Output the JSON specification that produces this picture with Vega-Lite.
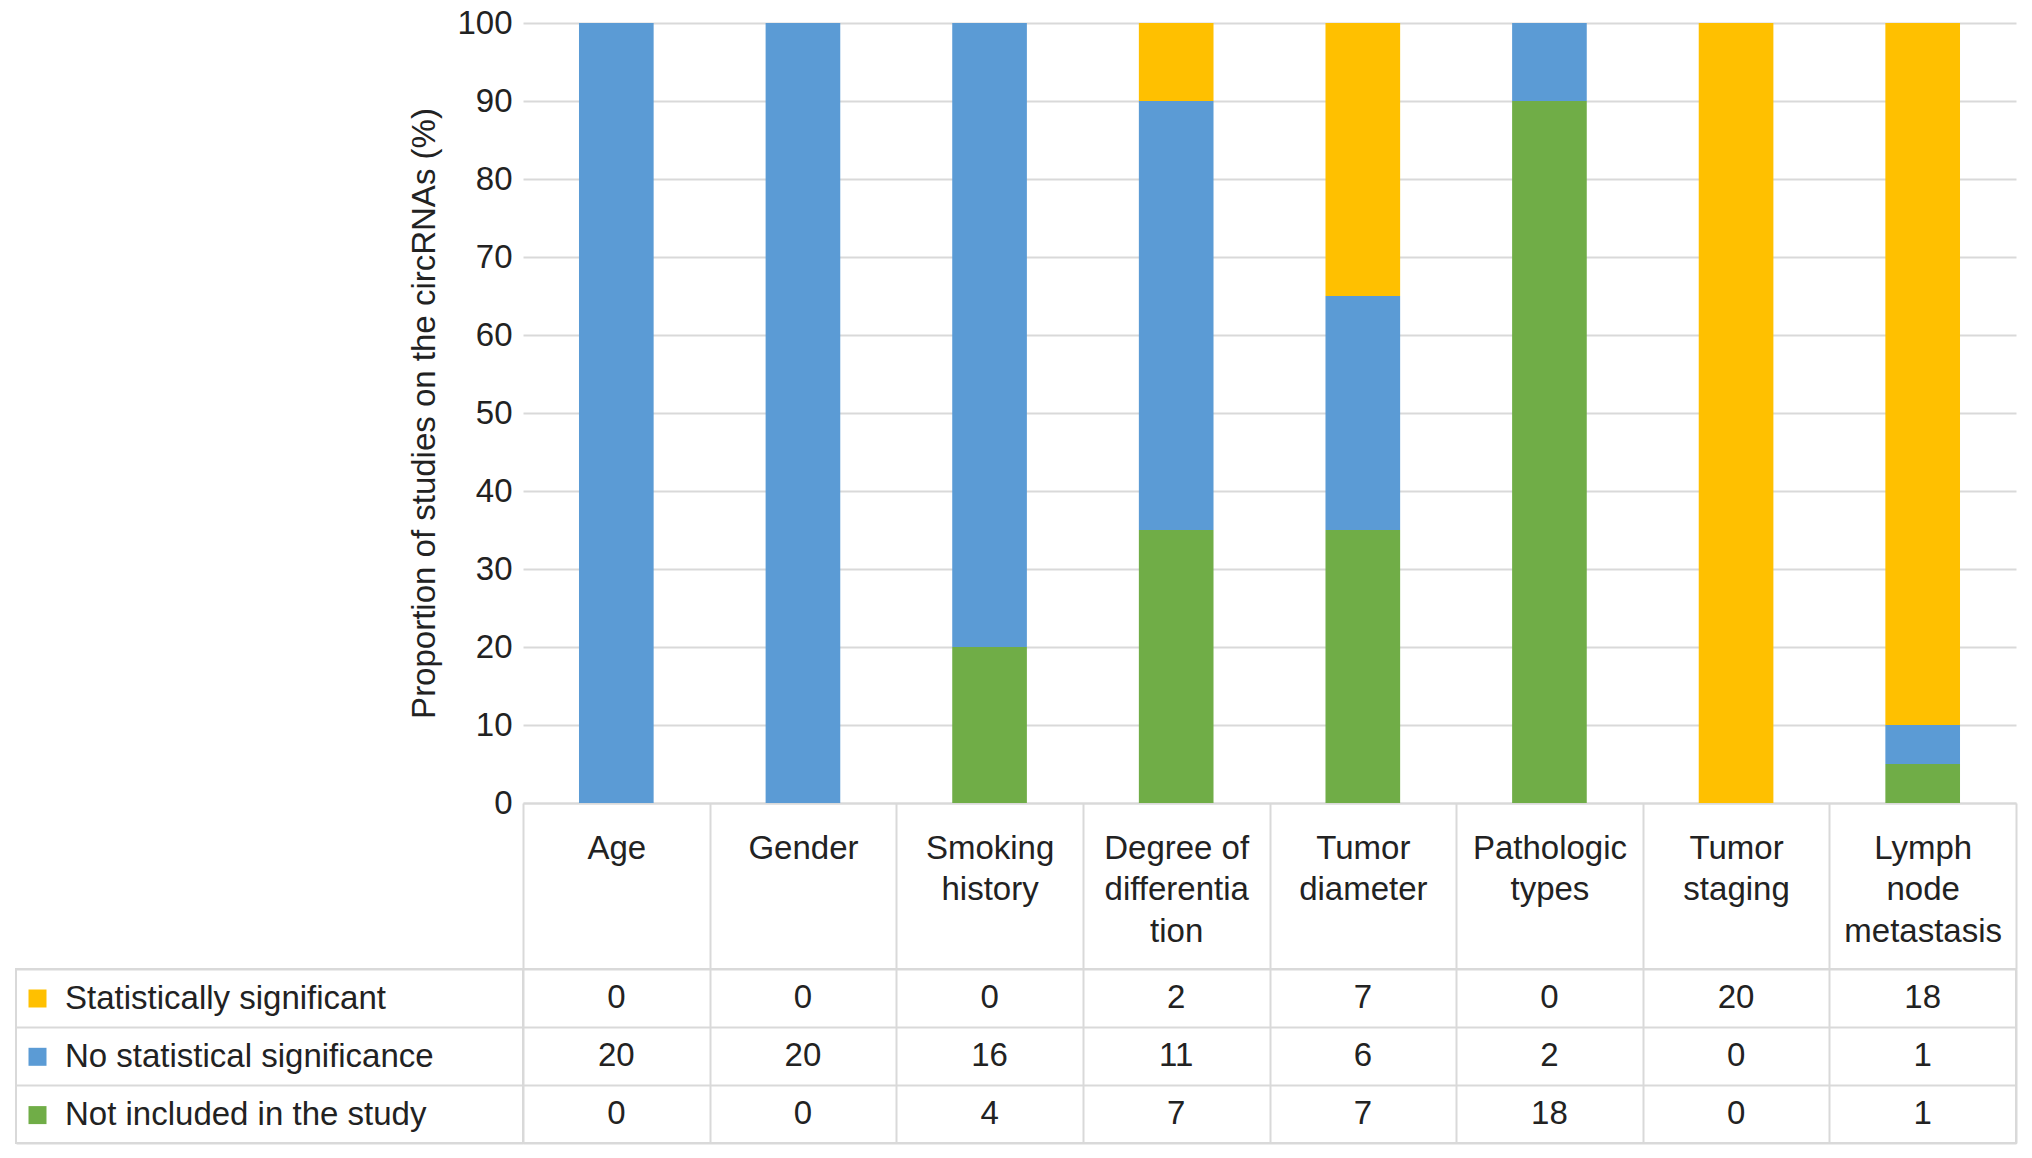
{
  "$schema": "https://vega.github.io/schema/vega-lite/v6.json",
  "padding": {"left": 15, "top": 7, "right": 15, "bottom": 14},
  "background": "white",
  "config": {
    "font": "Liberation Sans",
    "view": {"stroke": null}
  },
  "datasets": {
    "counts": [
      {"factor": "Age", "status": "Statistically significant", "count": 0},
      {"factor": "Age", "status": "No statistical significance", "count": 20},
      {"factor": "Age", "status": "Not included in the study", "count": 0},
      {"factor": "Gender", "status": "Statistically significant", "count": 0},
      {"factor": "Gender", "status": "No statistical significance", "count": 20},
      {"factor": "Gender", "status": "Not included in the study", "count": 0},
      {"factor": "Smoking history", "status": "Statistically significant", "count": 0},
      {"factor": "Smoking history", "status": "No statistical significance", "count": 16},
      {"factor": "Smoking history", "status": "Not included in the study", "count": 4},
      {"factor": "Degree of differentiation", "status": "Statistically significant", "count": 2},
      {"factor": "Degree of differentiation", "status": "No statistical significance", "count": 11},
      {"factor": "Degree of differentiation", "status": "Not included in the study", "count": 7},
      {"factor": "Tumor diameter", "status": "Statistically significant", "count": 7},
      {"factor": "Tumor diameter", "status": "No statistical significance", "count": 6},
      {"factor": "Tumor diameter", "status": "Not included in the study", "count": 7},
      {"factor": "Pathologic types", "status": "Statistically significant", "count": 0},
      {"factor": "Pathologic types", "status": "No statistical significance", "count": 2},
      {"factor": "Pathologic types", "status": "Not included in the study", "count": 18},
      {"factor": "Tumor staging", "status": "Statistically significant", "count": 20},
      {"factor": "Tumor staging", "status": "No statistical significance", "count": 0},
      {"factor": "Tumor staging", "status": "Not included in the study", "count": 0},
      {"factor": "Lymph node metastasis", "status": "Statistically significant", "count": 18},
      {"factor": "Lymph node metastasis", "status": "No statistical significance", "count": 1},
      {"factor": "Lymph node metastasis", "status": "Not included in the study", "count": 1}
    ],
    "statusOrder": [
      {"status": "Not included in the study", "stackRank": 1},
      {"status": "No statistical significance", "stackRank": 2},
      {"status": "Statistically significant", "stackRank": 3}
    ]
  },
  "columns": 2,
  "spacing": {"row": 166, "column": 0},
  "bounds": "flush",
  "align": "each",
  "resolve": {"scale": {"x": "independent", "y": "independent"}},
  "concat": [
    {
      "width": 507, "height": 780,
      "data": {"name": "counts"},
      "mark": {"type": "point", "opacity": 0},
      "encoding": {}
    },
    {
      "width": 1493, "height": 780,
      "data": {"name": "counts"},
      "transform": [
        {"lookup": "status", "from": {"data": {"name": "statusOrder"}, "key": "status", "fields": ["stackRank"]}}
      ],
      "mark": {"type": "bar", "width": {"band": 0.4}},
      "encoding": {
        "x": {
          "field": "factor", "type": "nominal", "sort": null,
          "scale": {"paddingInner": 0, "paddingOuter": 0},
          "axis": {
            "title": null, "orient": "bottom",
            "domainColor": "#d9d9d9", "domainWidth": 2,
            "ticks": true, "tickBand": "extent", "tickSize": 166, "tickColor": "#d9d9d9", "tickWidth": 2,
            "labelFontSize": 33, "labelColor": "#222", "labelAngle": 0, "labelBaseline": "top",
            "labelLineHeight": 41.5, "labelPadding": -137, "labelLimit": 400, "labelOverlap": false,
            "labelExpr": "isValid(datum.value) ? (datum.value == 'Degree of differentiation' ? ['Degree of', 'differentia', 'tion'] : split(datum.value, ' ')) : ''"
          }
        },
        "y": {
          "field": "count", "type": "quantitative", "stack": "normalize",
          "scale": {"domain": [0, 1], "nice": false},
          "axis": {
            "title": "Proportion of studies on the circRNAs (%)",
            "values": [0, 0.1, 0.2, 0.3, 0.4, 0.5, 0.6, 0.7, 0.8, 0.9, 1],
            "labelExpr": "round(datum.value * 100)",
            "domain": false, "ticks": false,
            "grid": true, "gridColor": "#d9d9d9", "gridWidth": 2,
            "labelFontSize": 33, "labelColor": "#222", "labelPadding": 11,
            "titleFontSize": 33, "titleFontWeight": "normal", "titleColor": "#222", "titlePadding": 15
          }
        },
        "order": {"field": "stackRank", "type": "quantitative", "sort": "ascending"},
        "color": {
          "field": "status", "type": "nominal",
          "sort": ["Statistically significant", "No statistical significance", "Not included in the study"],
          "scale": {"range": ["#FFC000", "#5B9BD5", "#70AD47"]},
          "legend": {
            "orient": "none", "legendX": 5, "legendY": 959, "title": null,
            "symbolType": "square", "symbolSize": 324, "symbolStrokeWidth": 0,
            "labelFontSize": 33, "labelColor": "#222", "labelOffset": 11,
            "rowPadding": 24.3, "padding": 0, "labelLimit": 600
          }
        }
      }
    },
    {
      "width": 507, "height": 174,
      "data": {"name": "counts"},
      "view": {"stroke": "#d9d9d9", "strokeWidth": 2},
      "mark": {"type": "point", "opacity": 0},
      "encoding": {
        "y": {
          "field": "status", "type": "nominal",
          "sort": ["Statistically significant", "No statistical significance", "Not included in the study"],
          "scale": {"type": "band", "paddingInner": 0, "paddingOuter": 0},
          "axis": {"title": null, "labels": false, "ticks": false, "domain": false, "grid": true, "tickBand": "extent", "gridColor": "#d9d9d9", "gridWidth": 2}
        }
      }
    },
    {
      "width": 1493, "height": 174,
      "data": {"name": "counts"},
      "view": {"stroke": "#d9d9d9", "strokeWidth": 2},
      "mark": {"type": "text", "fontSize": 33, "color": "#222"},
      "encoding": {
        "x": {
          "field": "factor", "type": "nominal", "sort": null,
          "scale": {"paddingInner": 0, "paddingOuter": 0},
          "axis": {"title": null, "labels": false, "ticks": false, "domain": false, "grid": true, "tickBand": "extent", "gridColor": "#d9d9d9", "gridWidth": 2}
        },
        "y": {
          "field": "status", "type": "nominal",
          "sort": ["Statistically significant", "No statistical significance", "Not included in the study"],
          "scale": {"type": "band", "paddingInner": 0, "paddingOuter": 0},
          "axis": {"title": null, "labels": false, "ticks": false, "domain": false, "grid": true, "tickBand": "extent", "gridColor": "#d9d9d9", "gridWidth": 2}
        },
        "text": {"field": "count", "type": "quantitative"}
      }
    }
  ]
}
